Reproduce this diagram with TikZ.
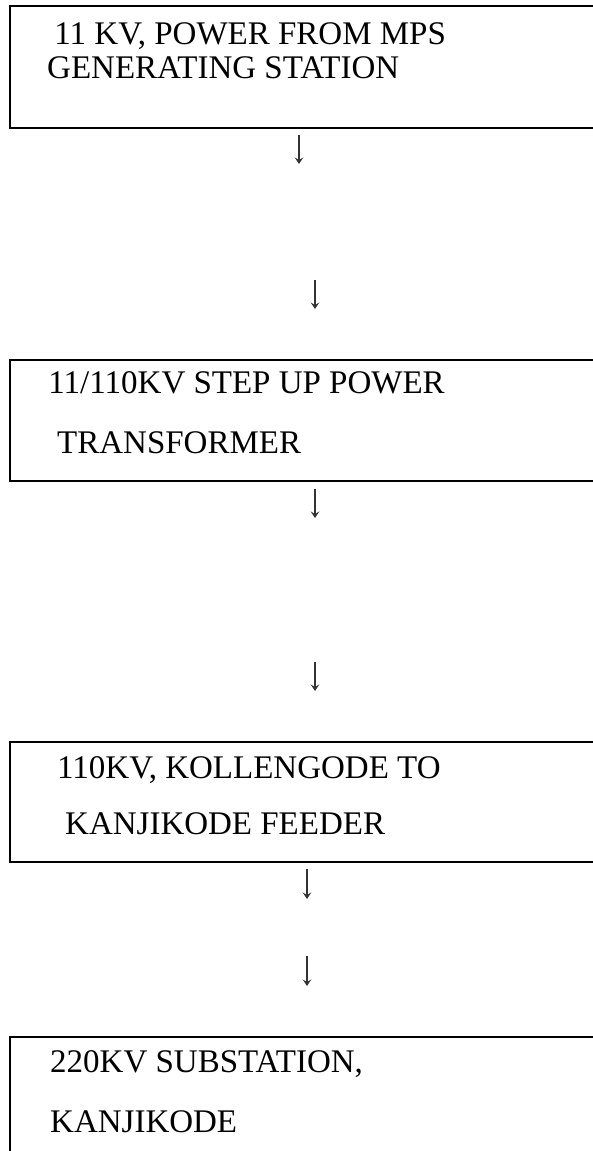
\documentclass[tikz,border=0pt]{standalone}
\usepackage{fontspec}
\setmainfont{Liberation Serif}
\usetikzlibrary{arrows.meta}
\tikzset{
  box/.style={draw, line width=2pt, anchor=north west, inner sep=0pt, minimum width=700pt},
  lbl/.style={anchor=base west, inner sep=0pt, font=\fontsize{33}{38}\selectfont},
  arr/.style={line width=1.4pt, draw=black!80, -{Stealth[length=6.5pt,width=8.5pt,inset=2.5pt]}}
}
\begin{document}
\begin{tikzpicture}[x=1pt,y=-1pt]
\useasboundingbox (0,0) rectangle (593,1151);
\clip (0,0) rectangle (593,1151);
% boxes
\node[box, minimum height=122pt] (b1) at (9,5) {};
\node[box, minimum height=121pt] (b2) at (9,359) {};
\node[box, minimum height=120pt] (b3) at (9,741) {};
\node[box, minimum height=200pt] (b4) at (9,1036) {};
% texts
\node[lbl] (t1a) at (46,44) {\ 11 KV, POWER FROM MPS};
\node[lbl] (t1b) at (47,78) {GENERATING STATION};
\node[lbl] (t2a) at (40,393) {\ 11/110KV STEP UP POWER};
\node[lbl] (t2b) at (57,453) {TRANSFORMER};
\node[lbl] (t3a) at (57,778) {110KV, KOLLENGODE TO};
\node[lbl] (t3b) at (65,834) {KANJIKODE FEEDER};
\node[lbl] (t4a) at (50,1072) {220KV SUBSTATION,};
\node[lbl] (t4b) at (50,1132) {KANJIKODE};
% arrows
\coordinate (a1s) at (299,135); \coordinate (a1e) at (299,164);
\coordinate (a2s) at (315,280); \coordinate (a2e) at (315,309);
\coordinate (a3s) at (315,489); \coordinate (a3e) at (315,518);
\coordinate (a4s) at (315,662); \coordinate (a4e) at (315,691);
\coordinate (a5s) at (307,869); \coordinate (a5e) at (307,899);
\coordinate (a6s) at (307,956); \coordinate (a6e) at (307,986);
\draw[arr] (a1s) -- (a1e);
\draw[arr] (a2s) -- (a2e);
\draw[arr] (a3s) -- (a3e);
\draw[arr] (a4s) -- (a4e);
\draw[arr] (a5s) -- (a5e);
\draw[arr] (a6s) -- (a6e);
\end{tikzpicture}
\end{document}
